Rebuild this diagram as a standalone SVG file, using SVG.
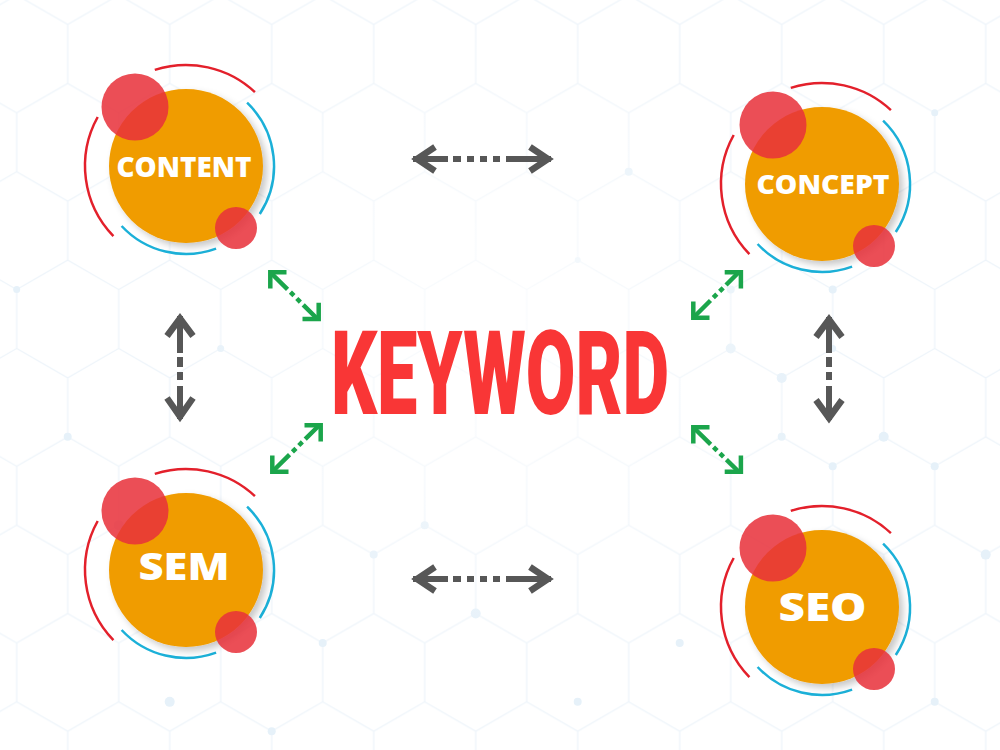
<svg xmlns="http://www.w3.org/2000/svg" width="1000" height="750" viewBox="0 0 1000 750">
  <defs>
    <pattern id="hex" patternUnits="userSpaceOnUse" x="67.7" y="142.3" width="102" height="176.7">
      <path d="M51 0V29.45L0 58.9V117.8L51 147.25V176.7M51 29.45L102 58.9V117.8L51 147.25" fill="none" stroke="#edf4fa" stroke-width="1.2"/>
    </pattern>
    <radialGradient id="fade" cx="500" cy="330" r="330" gradientUnits="userSpaceOnUse">
      <stop offset="0" stop-color="#ffffff" stop-opacity="0.75"/>
      <stop offset="1" stop-color="#ffffff" stop-opacity="0"/>
    </radialGradient>
    <filter id="shadow" x="-30%" y="-30%" width="160%" height="160%">
      <feDropShadow dx="4" dy="4" stdDeviation="3.5" flood-color="#000" flood-opacity="0.22"/>
    </filter>
    <style>
      .ring-red { fill: none; stroke: #e3202b; stroke-width: 2.5; }
      .ring-blue { fill: none; stroke: #1bb0d8; stroke-width: 2.5; }
      .core { fill: #f09c00; }
      .dot { fill: #e8313a; opacity: 0.86; }
      .label { font-family: "Open Sans", "Noto Sans", sans-serif; font-weight: 800; fill: #ffffff; text-anchor: middle; }
      .g-head { fill: none; stroke: #575757; stroke-width: 6.5; stroke-linejoin: miter; stroke-miterlimit: 10; }
      .g-shaft { stroke: #575757; stroke-width: 6; }
      .v-head { fill: none; stroke: #1ba54b; stroke-width: 4.5; stroke-linejoin: miter; }
      .v-shaft { stroke: #1ba54b; stroke-width: 4.5; stroke-dasharray: 24 4 5 4 5 4 60; }
      .bgdot { fill: #e6f1f9; }
    </style>
  </defs>

  <rect width="1000" height="750" fill="#ffffff"/>
  <g id="background">
    <rect width="1000" height="750" fill="url(#hex)"/>
    <circle class="bgdot" cx="730.7" cy="289.55" r="4"/>
    <circle class="bgdot" cx="730.7" cy="348.45" r="5"/>
    <circle class="bgdot" cx="781.7" cy="377.9" r="5"/>
    <circle class="bgdot" cx="832.7" cy="289.55" r="4"/>
    <circle class="bgdot" cx="832.7" cy="348.45" r="3.5"/>
    <circle class="bgdot" cx="781.7" cy="436.8" r="4"/>
    <circle class="bgdot" cx="832.7" cy="466.25" r="4"/>
    <circle class="bgdot" cx="883.7" cy="436.8" r="5"/>
    <circle class="bgdot" cx="934.7" cy="466.25" r="4"/>
    <circle class="bgdot" cx="985.7" cy="554.6" r="5"/>
    <circle class="bgdot" cx="628.7" cy="171.75" r="4"/>
    <circle class="bgdot" cx="934.7" cy="112.85" r="3.5"/>
    <circle class="bgdot" cx="577.7" cy="260.1" r="3"/>
    <circle class="bgdot" cx="67.7" cy="436.8" r="4"/>
    <circle class="bgdot" cx="118.7" cy="525.15" r="5"/>
    <circle class="bgdot" cx="16.7" cy="289.55" r="3.5"/>
    <circle class="bgdot" cx="220.7" cy="348.45" r="3.5"/>
    <circle class="bgdot" cx="373.7" cy="554.6" r="4"/>
    <circle class="bgdot" cx="424.7" cy="525.15" r="4"/>
    <circle class="bgdot" cx="475.7" cy="613.5" r="5"/>
    <circle class="bgdot" cx="322.7" cy="642.95" r="4"/>
    <circle class="bgdot" cx="169.7" cy="701.85" r="5"/>
    <circle class="bgdot" cx="271.7" cy="731.3" r="4"/>
    <circle class="bgdot" cx="577.7" cy="701.85" r="4"/>
    <circle class="bgdot" cx="679.7" cy="642.95" r="4"/>
    <circle class="bgdot" cx="934.7" cy="701.85" r="4"/>
    <rect width="1000" height="750" fill="url(#fade)"/>
  </g>

  <g id="connectors">
    <!-- top horizontal gray -->
    <line class="g-shaft" x1="413" y1="159" x2="551" y2="159" stroke-dasharray="35 5 8 6 7 6 7 6 7 6 60"/>
    <path class="g-head" d="M435 147L417 159L435 171"/>
    <path class="g-head" d="M530 147L548 159L530 171"/>
    <!-- bottom horizontal gray -->
    <line class="g-shaft" x1="413" y1="579" x2="551" y2="579" stroke-dasharray="35 5 8 6 7 6 7 6 7 6 60"/>
    <path class="g-head" d="M435 567L417 579L435 591"/>
    <path class="g-head" d="M530 567L548 579L530 591"/>
    <!-- left vertical gray -->
    <line class="g-shaft" x1="180" y1="316" x2="180" y2="419" stroke-dasharray="37 4 10 5 8 6 60"/>
    <path class="g-head" d="M167 336L180 318.5L193 336"/>
    <path class="g-head" d="M167 398L180 416.5L193 398"/>
    <!-- right vertical gray -->
    <line class="g-shaft" x1="829" y1="317" x2="829" y2="420" stroke-dasharray="36 4 10 5 8 6 60"/>
    <path class="g-head" d="M816 337L829 319.5L842 337"/>
    <path class="g-head" d="M816 400L829 418L842 400"/>

    <!-- green diagonals -->
    <g transform="translate(268,270)">
      <line class="v-shaft" x1="2.5" y1="2.5" x2="49" y2="48.5"/>
      <path class="v-head" d="M18.5 2.3H2.3V18.5"/>
      <path class="v-head" d="M34.5 49H50.7V32.8"/>
    </g>
    <g transform="translate(270,474) scale(1,-1)">
      <line class="v-shaft" x1="2.5" y1="2.5" x2="49" y2="48.5"/>
      <path class="v-head" d="M18.5 2.3H2.3V18.5"/>
      <path class="v-head" d="M34.5 48.7H50.7V32.5"/>
    </g>
    <g transform="translate(691,320) scale(1,-1)">
      <line class="v-shaft" x1="2.5" y1="2.5" x2="48" y2="48"/>
      <path class="v-head" d="M18.5 2.3H2.3V18.5"/>
      <path class="v-head" d="M33.7 47.7H49.9V31.5"/>
    </g>
    <g transform="translate(691,425)">
      <line class="v-shaft" x1="2.5" y1="2.5" x2="48" y2="47"/>
      <path class="v-head" d="M18.5 2.3H2.3V18.5"/>
      <path class="v-head" d="M33.7 46.7H49.9V30.5"/>
    </g>
  </g>

  <g id="node-keyword">
    <text x="331" y="414" textLength="338" lengthAdjust="spacingAndGlyphs" font-family="Roboto, 'Liberation Sans', sans-serif" font-weight="900" font-size="116" fill="#f93636">KEYWORD</text>
  </g>

  <g id="node-content" transform="translate(186,166)">
    <path class="ring-red" d="M-31.2 -96.1A101 101 0 0 1 68.9 -73.9"/>
    <path class="ring-red" d="M-72.6 70.2A101 101 0 0 1 -88.3 -49"/>
    <path class="ring-blue" d="M61.1 -63.3A88 88 0 0 1 73.8 48"/>
    <path class="ring-blue" d="M30.1 82.7A88 88 0 0 1 -64.4 60"/>
    <circle class="core" r="77" filter="url(#shadow)"/>
    <text class="label" x="-2" y="11.3" font-size="28" textLength="135" lengthAdjust="spacingAndGlyphs">CONTENT</text>
    <circle class="dot" cx="-51" cy="-59" r="33.5"/>
    <circle class="dot" cx="50" cy="62" r="21"/>
  </g>

  <g id="node-concept" transform="translate(822,184)">
    <path class="ring-red" d="M-31.2 -96.1A101 101 0 0 1 68.9 -73.9"/>
    <path class="ring-red" d="M-72.6 70.2A101 101 0 0 1 -88.3 -49"/>
    <path class="ring-blue" d="M61.1 -63.3A88 88 0 0 1 73.8 48"/>
    <path class="ring-blue" d="M30.1 82.7A88 88 0 0 1 -64.4 60"/>
    <circle class="core" r="77" filter="url(#shadow)"/>
    <text class="label" x="1" y="10" font-size="27" textLength="133" lengthAdjust="spacingAndGlyphs">CONCEPT</text>
    <circle class="dot" cx="-49" cy="-59" r="33.5"/>
    <circle class="dot" cx="52" cy="62" r="21"/>
  </g>

  <g id="node-sem" transform="translate(186,570)">
    <path class="ring-red" d="M-31.2 -96.1A101 101 0 0 1 68.9 -73.9"/>
    <path class="ring-red" d="M-72.6 70.2A101 101 0 0 1 -88.3 -49"/>
    <path class="ring-blue" d="M61.1 -63.3A88 88 0 0 1 73.8 48"/>
    <path class="ring-blue" d="M30.1 82.7A88 88 0 0 1 -64.4 60"/>
    <circle class="core" r="77" filter="url(#shadow)"/>
    <text class="label" x="-2" y="10" font-size="37" textLength="91" lengthAdjust="spacingAndGlyphs">SEM</text>
    <circle class="dot" cx="-51" cy="-59" r="33.5"/>
    <circle class="dot" cx="50" cy="62" r="21"/>
  </g>

  <g id="node-seo" transform="translate(822,607)">
    <path class="ring-red" d="M-31.2 -96.1A101 101 0 0 1 68.9 -73.9"/>
    <path class="ring-red" d="M-72.6 70.2A101 101 0 0 1 -88.3 -49"/>
    <path class="ring-blue" d="M61.1 -63.3A88 88 0 0 1 73.8 48"/>
    <path class="ring-blue" d="M30.1 82.7A88 88 0 0 1 -64.4 60"/>
    <circle class="core" r="77" filter="url(#shadow)"/>
    <text class="label" x="0.5" y="13.7" font-size="38" textLength="88" lengthAdjust="spacingAndGlyphs">SEO</text>
    <circle class="dot" cx="-49" cy="-59" r="33.5"/>
    <circle class="dot" cx="52" cy="62" r="21"/>
  </g>
</svg>
